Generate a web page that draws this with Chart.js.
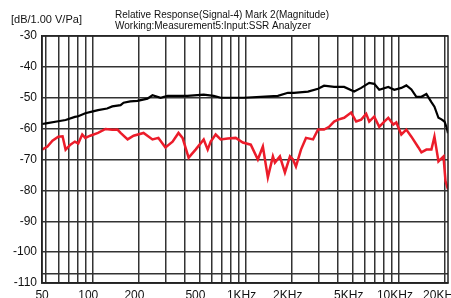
<!DOCTYPE html>
<html>
<head>
<meta charset="utf-8">
<script src="https://cdn.jsdelivr.net/npm/chart.js@4"></script>
<style>
html, body { margin: 0; padding: 0; background: #fff; overflow: hidden; }
</style>
</head>
<body>
<canvas id="myChart" width="451" height="298"></canvas>
<script>
// black trace
var freqBlack = [47, 51, 60, 67, 77, 81, 90, 101, 109, 125, 135, 153, 160, 177, 197, 229, 247, 279, 310, 418, 533, 619, 688, 973, 1258, 1624, 1889, 2067, 2553, 2969, 3250, 3778, 4393, 5106, 5675, 6402, 6902, 7441, 8524, 9330, 10370, 11180, 12060, 13000, 14020, 15110, 16290, 17050, 18110, 18950, 19830, 20500, 20900];
var levelBlack = [-58.5, -58.2, -57.6, -57.2, -56.2, -56, -55, -54.4, -54, -53.5, -52.8, -52.4, -51.6, -51.2, -51, -50.3, -49.2, -50, -49.4, -49.4, -49, -49.4, -50, -50, -49.7, -49.4, -48.4, -48.4, -48, -47.1, -46.1, -46.5, -46.5, -48, -46.8, -45.2, -45.5, -47.4, -46.5, -47.4, -46.8, -46, -47.3, -49.7, -49.7, -48.8, -51.4, -52.9, -56.5, -57, -57.7, -59.7, -61.5];

// red trace
var freqRed = [47, 51, 55, 60, 64, 67, 72, 77, 81, 86, 90, 97, 109, 122, 135, 146, 153, 170, 186, 216, 247, 270, 300, 334, 365, 388, 425, 472, 533, 566, 592, 638, 688, 765, 863, 959, 1081, 1202, 1296, 1397, 1507, 1553, 1674, 1805, 1947, 2037, 2130, 2298, 2477, 2754, 2969, 3250, 3504, 3778, 4012, 4393, 4881, 5263, 5675, 6118, 6402, 6902, 7441, 8025, 8524, 9192, 9616, 10370, 11180, 12060, 13400, 14020, 15110, 16290, 17050, 18110, 19530, 20130, 20900];
var levelRed = [-66.8, -65.8, -63.9, -62.6, -62.5, -66.8, -65.2, -64.2, -64.8, -61.9, -63, -62.3, -61.4, -60.1, -60.4, -60.3, -61.4, -63.5, -62.3, -61.4, -63.5, -63, -66.1, -64.2, -61.4, -63, -69.4, -66.8, -63.5, -66.8, -64.2, -61.9, -63.5, -63.2, -63, -64.5, -65.2, -70, -65.8, -75.8, -69, -71, -69, -74.2, -69, -70, -72.3, -66.8, -63, -63.5, -60.3, -60.3, -59.4, -57.7, -57.1, -56.5, -54.8, -57.7, -57.1, -55.2, -57.7, -56.1, -59.4, -57.7, -56.5, -58.7, -58, -61.9, -60.3, -62.6, -66.1, -67.7, -66.8, -66.8, -62.6, -70.6, -69, -77, -79.7];

var xTickValues = [50, 60, 70, 80, 90, 100, 200, 300, 400, 500, 600, 700, 800, 900, 1000, 2000, 3000, 4000, 5000, 6000, 7000, 8000, 9000, 10000, 20000];
var xTickLabels = { 50: '50', 100: '100', 200: '200', 500: '500', 1000: '1KHz', 2000: '2KHz', 5000: '5KHz', 10000: '10KHz', 20000: '20KHz' };
var yTickValues = [-110, -107, -100, -90, -80, -70, -60, -50, -40, -30];

var titleLines = ['Relative Response(Signal-4) Mark 2(Magnitude)', 'Working:Measurement5:Input:SSR Analyzer'];
var unitLabel = '[dB/1.00 V/Pa]';

function toPoints(xs, ys) {
    return xs.map(function(f, i) { return { x: f, y: ys[i] }; });
}

var frameAndTitle = {
    id: 'frameAndTitle',
    afterDraw: function(chart) {
        var ctx = chart.ctx, a = chart.chartArea;
        ctx.save();
        ctx.strokeStyle = '#222';
        ctx.lineWidth = 1.5;
        ctx.strokeRect(a.left, a.top, a.right - a.left, a.bottom - a.top);
        ctx.fillStyle = '#111';
        ctx.textBaseline = 'middle';
        ctx.font = '10px "Liberation Sans", Arial, sans-serif';
        ctx.fillText(titleLines[0], 115, 15);
        ctx.fillText(titleLines[1], 115, 26);
        ctx.font = '11px "Liberation Sans", Arial, sans-serif';
        ctx.fillText(unitLabel, 11, 20);
        ctx.restore();
    }
};

var ctx = document.getElementById('myChart').getContext('2d');
var myChart = new Chart(ctx, {
    type: 'line',
    data: {
        datasets: [{
            label: 'Black',
            data: toPoints(freqBlack, levelBlack),
            borderColor: '#000',
            borderWidth: 2.2,
            pointRadius: 0,
            tension: 0
        }, {
            label: 'Red',
            data: toPoints(freqRed, levelRed),
            borderColor: '#ec1c2a',
            borderWidth: 2.5,
            pointRadius: 0,
            tension: 0
        }]
    },
    options: {
        responsive: false,
        animation: false,
        layout: { padding: { top: 36, right: 3, left: 0, bottom: 0 } },
        plugins: {
            legend: { display: false },
            tooltip: { enabled: false }
        },
        scales: {
            x: {
                type: 'logarithmic',
                min: 47,
                max: 20900,
                afterBuildTicks: function(scale) {
                    scale.ticks = xTickValues.map(function(v) { return { value: v }; });
                },
                afterFit: function(scale) {
                    scale.height = 15;
                    scale.paddingLeft = 0;
                    scale.paddingRight = 0;
                },
                grid: { color: '#333', lineWidth: 1.5, drawTicks: false },
                border: { color: '#222', width: 1.5 },
                ticks: {
                    autoSkip: false,
                    maxRotation: 0,
                    padding: 5,
                    labelOffset: -4,
                    color: '#111',
                    font: { family: '"Liberation Sans", Arial, sans-serif', size: 12 },
                    callback: function(value) {
                        return xTickLabels[value] || '';
                    }
                }
            },
            y: {
                min: -110,
                max: -30,
                afterBuildTicks: function(scale) {
                    scale.ticks = yTickValues.map(function(v) { return { value: v }; });
                },
                afterFit: function(scale) {
                    scale.width = 42;
                    scale.paddingTop = 0;
                    scale.paddingBottom = 0;
                },
                grid: { color: '#333', lineWidth: 1.5, drawTicks: false },
                border: { color: '#222', width: 1.5 },
                ticks: {
                    autoSkip: false,
                    padding: 5,
                    color: '#111',
                    font: { family: '"Liberation Sans", Arial, sans-serif', size: 12 },
                    callback: function(value) {
                        return value === -107 ? '' : String(value);
                    }
                }
            }
        }
    },
    plugins: [frameAndTitle]
});
</script>
</body>
</html>
